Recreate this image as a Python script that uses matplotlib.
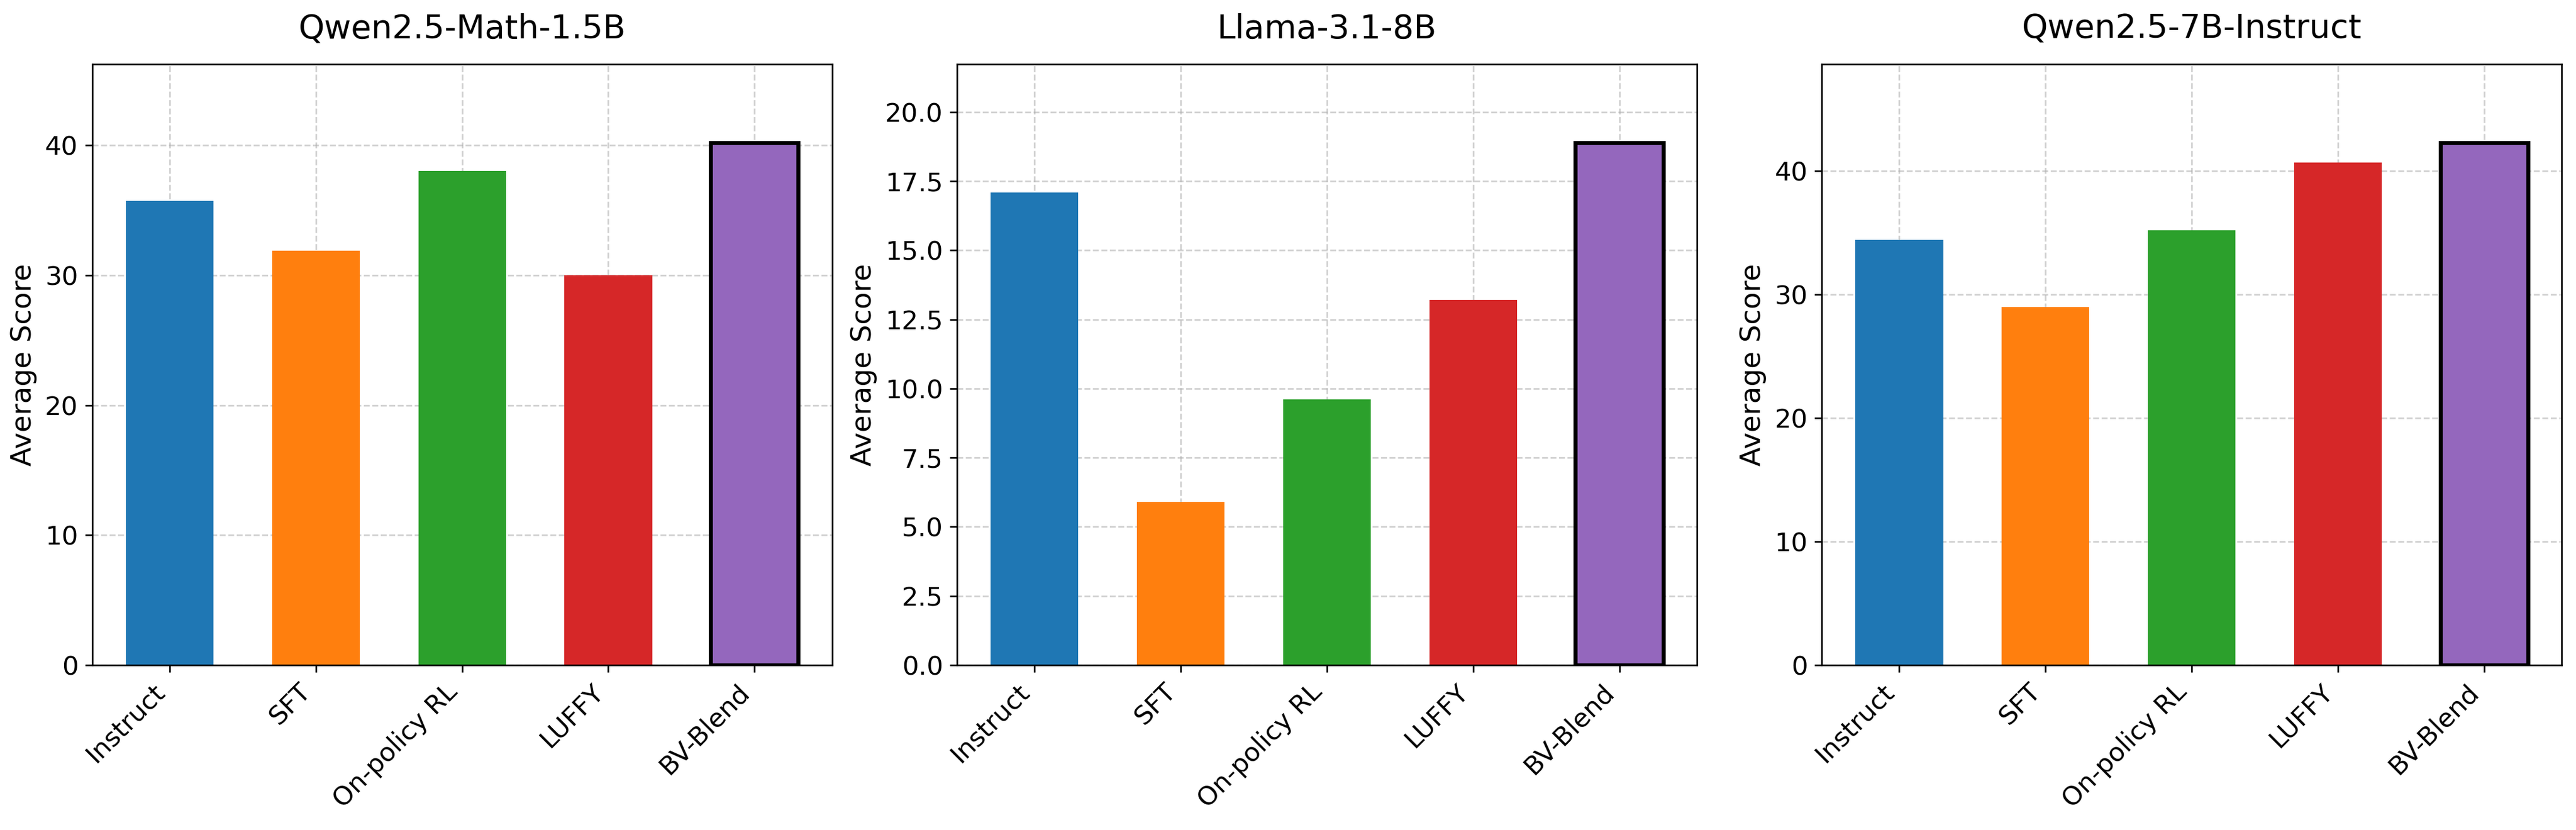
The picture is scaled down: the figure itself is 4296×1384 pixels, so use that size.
import matplotlib
matplotlib.use('Agg')
import matplotlib.pyplot as plt
import numpy as np

methods = ['Instruct', 'SFT', 'On-policy RL', 'LUFFY', 'BV-Blend']
colors = ['#1f77b4', '#ff7f0e', '#2ca02c', '#d62728', '#9467bd']

models = ['Qwen2.5-Math-1.5B', 'Llama-3.1-8B', 'Qwen2.5-7B-Instruct']
qwen_math_scores = [35.7, 31.9, 38.0, 30.0, 40.2]
llama_scores = [17.1, 5.9, 9.6, 13.2, 18.9]
qwen_instruct_scores = [34.4, 29.0, 35.2, 40.7, 42.3]
all_scores = [qwen_math_scores, llama_scores, qwen_instruct_scores]

fig, axes = plt.subplots(1, 3, figsize=(4296 / 240, 1384 / 240), dpi=240)

x = np.arange(len(methods))
for ax, name, scores in zip(axes, models, all_scores):
    bars = ax.bar(x, scores, 0.6, color=colors)
    # highlight our method
    bars[-1].set_edgecolor('black')
    bars[-1].set_linewidth(2)
    ax.set_title(name, fontsize=16.5, pad=13)
    ax.set_ylabel('Average Score', fontsize=14)
    ax.set_xticks(x)
    ax.set_xticklabels(methods, rotation=45, ha='right', fontsize=13)
    ax.tick_params(axis='y', labelsize=13)
    ax.set_ylim(0, max(scores) * 1.15)
    ax.grid(True, linestyle='--', alpha=0.6)
    ax.set_axisbelow(True)

fig.subplots_adjust(left=0.0358, right=0.9944, top=0.9227, bottom=0.1987, wspace=0.169)
fig.savefig('out.png', dpi=240)
